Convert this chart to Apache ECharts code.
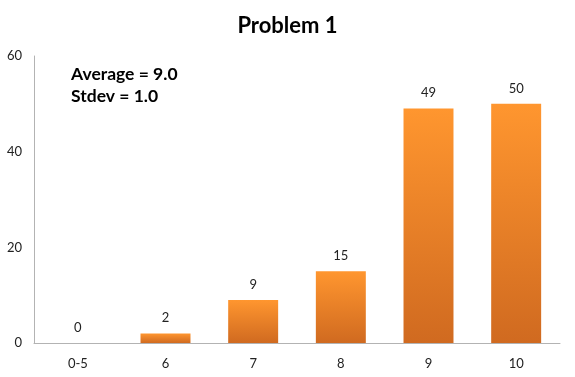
<!DOCTYPE html>
<html>
<head>
<meta charset="utf-8">
<script src="https://cdn.jsdelivr.net/npm/echarts@6/dist/echarts.min.js"></script>
<style>
  html, body { margin: 0; padding: 0; background: #fff; }
  #chart { width: 575px; height: 377px; }
</style>
</head>
<body>
<div id="chart"></div>
<script>
const categories = ['0-5', '6', '7', '8', '9', '10'];
const counts = [0, 2, 9, 15, 49, 50];
const yTicks = [0, 20, 40, 60];
const notes = ['Average = 9.0', 'Stdev = 1.0'];

const chart = echarts.init(document.getElementById('chart'));

const option = {
  animation: false,
  title: {
    text: 'Problem 1',
    left: 'center',
    top: 10,
    textStyle: { fontFamily: 'Lato', fontWeight: 'bold', fontSize: 22, color: '#000' }
  },
  grid: { left: 34, right: 15, top: 56, bottom: 34 },
  xAxis: {
    type: 'category',
    data: categories,
    axisLine: { lineStyle: { color: '#b3b3b3' } },
    axisTick: { show: false },
    axisLabel: { fontFamily: 'Lato', fontSize: 13, color: '#222', margin: 14 }
  },
  yAxis: {
    type: 'value',
    min: yTicks[0],
    max: yTicks[yTicks.length - 1],
    interval: 20,
    axisLine: { show: true, lineStyle: { color: '#b3b3b3' } },
    axisTick: { show: false },
    splitLine: { show: false },
    axisLabel: { fontFamily: 'Lato', fontSize: 13, color: '#222', margin: 12 }
  },
  graphic: notes.map((t, i) => ({
    type: 'text',
    left: 71,
    top: 65 + i * 22,
    style: { text: t, font: 'bold 17.5px Lato', fill: '#000' }
  })),
  series: [{
    type: 'bar',
    data: counts,
    barWidth: '57%',
    itemStyle: {
      color: new echarts.graphic.LinearGradient(0, 0, 0, 1, [
        { offset: 0, color: '#ff962f' },
        { offset: 1, color: '#d06a20' }
      ])
    },
    label: {
      show: true,
      position: 'top',
      distance: 9,
      fontFamily: 'Lato',
      fontSize: 13,
      color: '#222'
    }
  }]
};

chart.setOption(option);
</script>
</body>
</html>
